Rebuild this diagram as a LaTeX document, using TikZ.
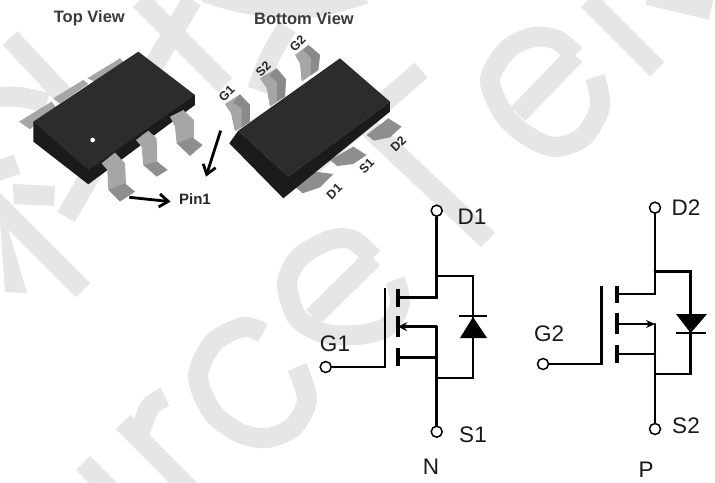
\documentclass[tikz,border=0pt]{standalone}
\usepackage{fontspec}
\setmainfont{Liberation Sans}
\usetikzlibrary{arrows.meta}
\definecolor{wm}{HTML}{E6E6E6}
\definecolor{chiptop}{HTML}{2C2C2C}
\definecolor{chipside}{HTML}{1B1B1B}
\definecolor{leadc}{HTML}{A6A6A6}
\definecolor{leaddk}{HTML}{8A8A8A}
\definecolor{footc}{HTML}{8E8E8E}
\definecolor{capc}{HTML}{3A3A3A}
\tikzset{
  wire/.style={line width=2.6bp,black,line cap=round,line join=miter},
  channel/.style={line width=3.8bp,black},
  term/.style={circle,draw=black,fill=white,line width=1.5bp,minimum size=11bp,inner sep=0pt},
  lab/.style={font=\fontsize{22.5bp}{26bp}\selectfont,inner sep=0pt,text=black!90},
  viewcap/.style={font=\bfseries\fontsize{16.5bp}{19bp}\selectfont,inner sep=0pt,text=capc},
  pinlab/.style={font=\bfseries\fontsize{12.5bp}{15bp}\selectfont,inner sep=0pt,text=black!85},
  wstroke/.style={line width=20bp,wm,line cap=butt,line join=round},
  leadp/.style={fill=leadc,draw=none},
  leadq/.style={fill=leaddk,draw=none},
  footp/.style={fill=footc,draw=none},
  pointer/.style={line width=2.8bp,black,-{Straight Barb[length=9bp,width=13bp]}},
}
\begin{document}
\begin{tikzpicture}[x=1bp,y=-1bp]
\useasboundingbox (0,0) rectangle (715,483);
\fill[white] (0,0) rectangle (715,483);
% watermark
\begin{scope}
\clip (0,0) rectangle (715,483);
\draw[wstroke] (10,38) -- (110,145);
\draw[wstroke] (140,0) -- (225,85);
\draw[wstroke] (192,0) -- (66,217);
\draw[wstroke] plot[smooth] coordinates {(205,-8) (230,0) (267,7) (317,7) (365,-6)};
\draw[wstroke] plot[smooth] coordinates {(287,27) (270,57) (257,90)};
\draw[wstroke] plot[smooth] coordinates {(-5,97) (20,97) (47,103)};
\draw[wstroke] (-5,172) -- (17,164);
\fill[wm] (13,184) -- (55,186) -- (54,206) -- (14,204) -- cycle;
\draw[wstroke] (-10,197) -- (83,290);
\fill[wm] (0,222) -- (8,228) -- (27,293) -- (5,292) -- cycle;
\draw[wstroke] (421,70) -- (296,180);
\draw[wstroke] (350,110) -- (488,240);
% right e
\draw[wstroke] (518,114) -- (575,55);
\draw[wstroke] plot[smooth] coordinates {(575,55) (557,40) (533,37) (507,50) (490,80) (503,113) (523,133) (553,147) (583,137) (600,107) (595,77)};
% k
\draw[wstroke] (588,0) -- (657,69);
\draw[wstroke] (648,-5) -- (711,10);
% centre e
\draw[wstroke] (313,317) -- (373,258);
\draw[wstroke] plot[smooth] coordinates {(373,258) (353,240) (330,240) (300,257) (287,283) (297,317) (323,333) (357,335) (387,327) (400,303) (395,280)};
% c
\draw[wstroke] plot[smooth] coordinates {(263,333) (243,327) (213,343) (198,377) (213,413) (240,433) (267,438) (293,427) (307,400) (297,367)};
% r
\draw[wstroke] (123,422) -- (200,500);
\draw[wstroke] plot[smooth] coordinates {(165,397) (150,407) (140,432)};
\draw[wstroke] (83,463) -- (112,492);
\end{scope}
% chip drawings
\begin{scope}[x=0.3333bp,y=-0.3333bp]
% top-view chip
\fill[leadp] (57,365) -- (155,305) -- (168,322) -- (90,388) -- cycle;
\fill[leadp] (160,295) -- (250,240) -- (265,252) -- (180,310) -- cycle;
\fill[leadp] (262,235) -- (360,175) -- (372,187) -- (285,245) -- cycle;
\fill[chipside] (100,365) -- (100,425) -- (265,553) -- (585,315) -- (585,285) -- cycle;
\fill[chiptop] (100,365) -- (415,155) -- (585,285) -- (265,510) -- cycle;
\fill[white] (278,420) circle (7);
\fill[leadp] (510,350) -- (550,330) -- (582,360) -- (582,420) -- (560,440) -- (530,430) -- (525,380) -- cycle;
\fill[footp] (530,430) -- (578,413) -- (608,435) -- (570,468) -- cycle;
\fill[leadp] (408,420) -- (445,392) -- (470,415) -- (472,490) -- (450,505) -- (430,495) -- (425,440) -- cycle;
\fill[footp] (430,495) -- (472,485) -- (503,510) -- (470,530) -- cycle;
\fill[leadp] (305,490) -- (345,458) -- (375,490) -- (378,550) -- (350,565) -- (325,570) -- (322,510) -- cycle;
\fill[footp] (325,570) -- (375,550) -- (405,575) -- (360,605) -- cycle;
% bottom-view chip
\fill[leadp] (675,312) -- (720,283) -- (750,315) -- (750,365) -- (705,395) -- (693,340) -- cycle;
\fill[leadq] (720,283) -- (750,315) -- (750,365) -- (725,382) -- (725,325) -- (700,308) -- cycle;
\fill[leadp] (780,235) -- (830,205) -- (858,238) -- (855,290) -- (810,320) -- (800,265) -- cycle;
\fill[leadq] (830,205) -- (858,238) -- (855,290) -- (830,304) -- (832,248) -- (808,225) -- cycle;
\fill[leadp] (885,165) -- (925,135) -- (960,165) -- (955,210) -- (905,245) -- (900,190) -- cycle;
\fill[leadq] (925,135) -- (960,165) -- (955,210) -- (932,226) -- (934,175) -- (910,150) -- cycle;
\fill[footp] (885,560) -- (945,515) -- (1000,522) -- (960,562) -- (908,580) -- cycle;
\fill[footp] (990,480) -- (1060,440) -- (1100,465) -- (1060,492) -- (1012,498) -- cycle;
\fill[footp] (1100,405) -- (1165,355) -- (1205,380) -- (1170,412) -- (1122,422) -- cycle;
\fill[chiptop] (715,392) -- (1020,175) -- (1170,305) -- (865,530) -- cycle;
\fill[chipside] (688,430) -- (715,392) -- (865,530) -- (1170,305) -- (1170,335) -- (850,595) -- cycle;
% captions
\node[viewcap] (topcap) at (268,55) {Top View};
\node[viewcap] (botcap) at (912,55) {Bottom View};
\node[pinlab,font=\bfseries\fontsize{15bp}{18bp}\selectfont] (pinone) at (585,598) {Pin1};
\node[pinlab,rotate=45] (lg1) at (680,280) {G1};
\node[pinlab,rotate=45] (ls2) at (790,207) {S2};
\node[pinlab,rotate=45] (lg2) at (893,130) {G2};
\node[pinlab,rotate=45] (ld1) at (1003,575) {D1};
\node[pinlab,rotate=45] (ls1) at (1100,497) {S1};
\node[pinlab,rotate=45] (ld2) at (1195,432) {D2};
\coordinate (ptail) at (388,592);
\coordinate (phead) at (512,605);
\coordinate (gtail) at (662,392);
\coordinate (ghead) at (618,530);
\draw[pointer] (ptail) -- (phead);
\draw[pointer] (gtail) -- (ghead);
\end{scope}
% N-channel MOSFET
\node[term] (d1) at (436.7,210.7) {};
\node[term] (s1) at (436.7,431.7) {};
\node[term] (g1) at (325.7,367) {};
\coordinate (n1) at (436.7,276);
\coordinate (n2) at (436.7,297.7);
\coordinate (n3) at (436.7,326.7);
\coordinate (n4) at (436.7,357.7);
\coordinate (n5) at (436.7,378);
\coordinate (n6) at (473,276);
\coordinate (n7) at (473,378);
\coordinate (n8) at (385,367);
\coordinate (n9) at (385,288);
\coordinate (c1) at (398,297.7);
\coordinate (c2) at (398,326.7);
\coordinate (c3) at (398,357.7);
\draw[wire] (d1) -- (n2) -- (c1);
\draw[wire] (n1) -- (n6) -- (n7) -- (n5);
\draw[wire] (s1) -- (n3);
\draw[wire,-{Stealth[length=9bp,width=9bp]}] (n3) -- (c2);
\draw[wire] (n4) -- (c3);
\draw[wire,line cap=butt] (g1) -- (n8) -- (n9);
\draw[channel] (398,289) -- (398,306.7);
\draw[channel] (398,316) -- (398,336.7);
\draw[channel] (398,348) -- (398,365.7);
\fill[black] (473,317) -- (487,338) -- (460,338) -- cycle;
\draw[wire,line cap=butt] (459,316) -- (487,316);
% P-channel MOSFET
\node[term] (d2) at (655,207.7) {};
\node[term] (s2) at (655,429) {};
\node[term] (g2) at (543,364) {};
\coordinate (p1) at (655,271.7);
\coordinate (p2) at (655,294);
\coordinate (p3) at (655,324);
\coordinate (p4) at (655,354);
\coordinate (p5) at (655,374);
\coordinate (p6) at (690.7,271.7);
\coordinate (p7) at (690.7,374);
\coordinate (p8) at (601.7,364);
\coordinate (p9) at (601.7,286);
\coordinate (q1) at (616.7,294);
\coordinate (q2) at (616.7,324);
\coordinate (q3) at (616.7,354);
\draw[wire] (d2) -- (p2) -- (q1);
\draw[wire] (p1) -- (p6) -- (p7) -- (p5);
\draw[wire] (s2) -- (p3);
\draw[wire,-{Stealth[length=9bp,width=8bp]}] (q2) -- (p3);
\draw[wire] (p4) -- (q3);
\draw[wire,line cap=butt] (g2) -- (p8) -- (p9);
\draw[channel] (616.7,286) -- (616.7,303);
\draw[channel] (616.7,312.7) -- (616.7,334);
\draw[channel] (616.7,345) -- (616.7,363);
\fill[black] (690.7,333) -- (676,314) -- (707,314) -- cycle;
\draw[wire,line cap=butt] (676,333) -- (706,333);
% labels
\node[lab] (ld1t) at (472,217) {D1};
\node[lab] (ls1t) at (473,435) {S1};
\node[lab] (lg1t) at (335,344) {G1};
\node[lab] (lnt) at (431,467) {N};
\node[lab] (ld2t) at (686,208) {D2};
\node[lab] (ls2t) at (686,426) {S2};
\node[lab] (lg2t) at (549,334) {G2};
\node[lab] (lpt) at (646,470) {P};
\end{tikzpicture}
\end{document}
